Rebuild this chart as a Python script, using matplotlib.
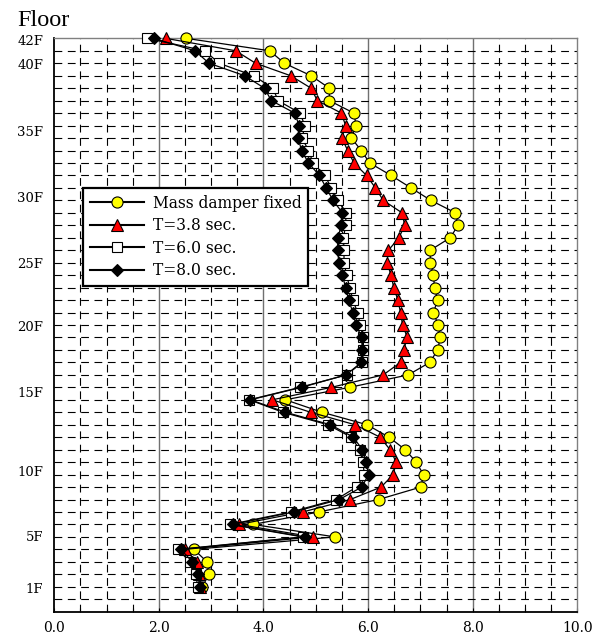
import matplotlib
matplotlib.use("Agg")
import matplotlib.pyplot as plt
import numpy as np

# level index 0..44 (bottom to top), floor labels sit at their own heights
levels = np.arange(45)
floor_labels = ["1F", "5F", "10F", "15F", "20F", "25F", "30F", "35F", "40F", "42F"]
floor_label_pos = [-0.1, 4.1, 9.3, 15.6, 20.9, 26.0, 31.3, 36.6, 41.9, 43.9]

mass_fixed = [2.83, 2.96, 2.92, 2.67, 5.37, 3.80, 5.06, 6.20, 7.01, 7.06,
              6.92, 6.71, 6.40, 5.98, 5.12, 4.42, 5.65, 6.77, 7.18, 7.33,
              7.38, 7.34, 7.25, 7.33, 7.27, 7.25, 7.19, 7.19, 7.57, 7.72,
              7.67, 7.20, 6.82, 6.44, 6.03, 5.87, 5.68, 5.77, 5.73, 5.26,
              5.26, 4.91, 4.40, 4.12, 2.52]
t38 = [2.78, 2.76, 2.72, 2.50, 4.94, 3.53, 4.75, 5.66, 6.25, 6.48,
       6.54, 6.42, 6.23, 5.75, 4.90, 4.17, 5.30, 6.29, 6.62, 6.68,
       6.75, 6.66, 6.62, 6.57, 6.49, 6.44, 6.36, 6.39, 6.59, 6.70,
       6.65, 6.29, 6.14, 5.97, 5.73, 5.61, 5.50, 5.57, 5.49, 5.03,
       4.91, 4.52, 3.85, 3.47, 2.13]
t60 = [2.74, 2.71, 2.59, 2.37, 4.75, 3.36, 4.53, 5.39, 5.78, 5.93,
       5.90, 5.84, 5.68, 5.23, 4.37, 3.73, 4.70, 5.59, 5.89, 5.91,
       5.91, 5.85, 5.80, 5.71, 5.65, 5.59, 5.54, 5.54, 5.53, 5.57,
       5.58, 5.42, 5.30, 5.17, 4.95, 4.86, 4.74, 4.79, 4.70, 4.28,
       4.18, 3.81, 3.15, 2.88, 1.78]
t80 = [2.78, 2.75, 2.64, 2.42, 4.79, 3.41, 4.58, 5.45, 5.88, 6.01,
       5.96, 5.89, 5.72, 5.28, 4.42, 3.75, 4.73, 5.58, 5.87, 5.89,
       5.88, 5.77, 5.71, 5.63, 5.57, 5.51, 5.44, 5.42, 5.42, 5.49,
       5.51, 5.33, 5.20, 5.07, 4.86, 4.73, 4.66, 4.68, 4.60, 4.15,
       4.02, 3.64, 2.96, 2.69, 1.90]

fig = plt.figure(figsize=(6.10, 6.43), dpi=100)
ax = fig.add_axes([0.0889, 0.0487, 0.8575, 0.8917])

dash = (0, (7, 5))
for x in np.arange(0.5, 10, 0.5):
    if x % 2 == 0:
        ax.axvline(x, color="#707070", lw=1.0, zorder=1)
    else:
        ax.axvline(x, color="black", lw=0.8, linestyle=dash, zorder=1)
for y in range(-1, 44):
    ax.axhline(y, color="black", lw=0.8, linestyle=dash, zorder=1)

ax.plot(mass_fixed, levels, color="black", lw=0.9, marker="o", ms=8,
        mfc="#ffff00", mec="black", mew=0.8, label="Mass damper fixed",
        clip_on=False, zorder=3)
ax.plot(t38, levels, color="black", lw=0.9, marker="^", ms=8.5,
        mfc="#ff0000", mec="black", mew=0.8, label="T=3.8 sec.",
        clip_on=False, zorder=4)
ax.plot(t60, levels, color="black", lw=0.9, marker="s", ms=7.5,
        mfc="white", mec="black", mew=0.8, label="T=6.0 sec.",
        clip_on=False, zorder=5)
ax.plot(t80, levels, color="black", lw=0.9, marker="D", ms=6.5,
        mfc="black", mec="black", mew=0.8, label="T=8.0 sec.",
        clip_on=False, zorder=6)

ax.set_xlim(0, 10)
ax.set_ylim(-2, 44)
ax.set_xticks(np.arange(0, 10.1, 2))
ax.set_xticklabels(["%.1f" % v for v in np.arange(0, 10.1, 2)],
                   family="DejaVu Serif", fontsize=10)
ax.set_xticks(np.arange(0, 10.1, 0.5), minor=True)
ax.tick_params(axis="x", which="both", direction="in", length=3, width=0.8, pad=7)
ax.set_yticks(floor_label_pos)
ax.set_yticklabels(floor_labels, family="DejaVu Serif", fontsize=9.5)
ax.tick_params(axis="y", length=0, pad=8)

for side in ["left", "bottom"]:
    ax.spines[side].set_color("black")
    ax.spines[side].set_linewidth(1.3)
for side in ["top", "right"]:
    ax.spines[side].set_color("#808080")
    ax.spines[side].set_linewidth(1.0)

leg = ax.legend(loc="upper left", bbox_to_anchor=(0.0556, 0.7384), borderaxespad=0,
                prop={"family": "DejaVu Serif", "size": 11.2}, handlelength=3.5,
                handletextpad=0.6, borderpad=0.4, labelspacing=0.36,
                fancybox=False, framealpha=1, edgecolor="black")
leg.get_frame().set_linewidth(1.6)
for line in leg.get_lines():
    line.set_linewidth(1.5)
leg.set_zorder(10)

fig.text(0.028, 0.9596, "Floor", family="Liberation Serif", fontsize=17.5,
         va="baseline", ha="left")

fig.savefig("out.png", dpi=100)
